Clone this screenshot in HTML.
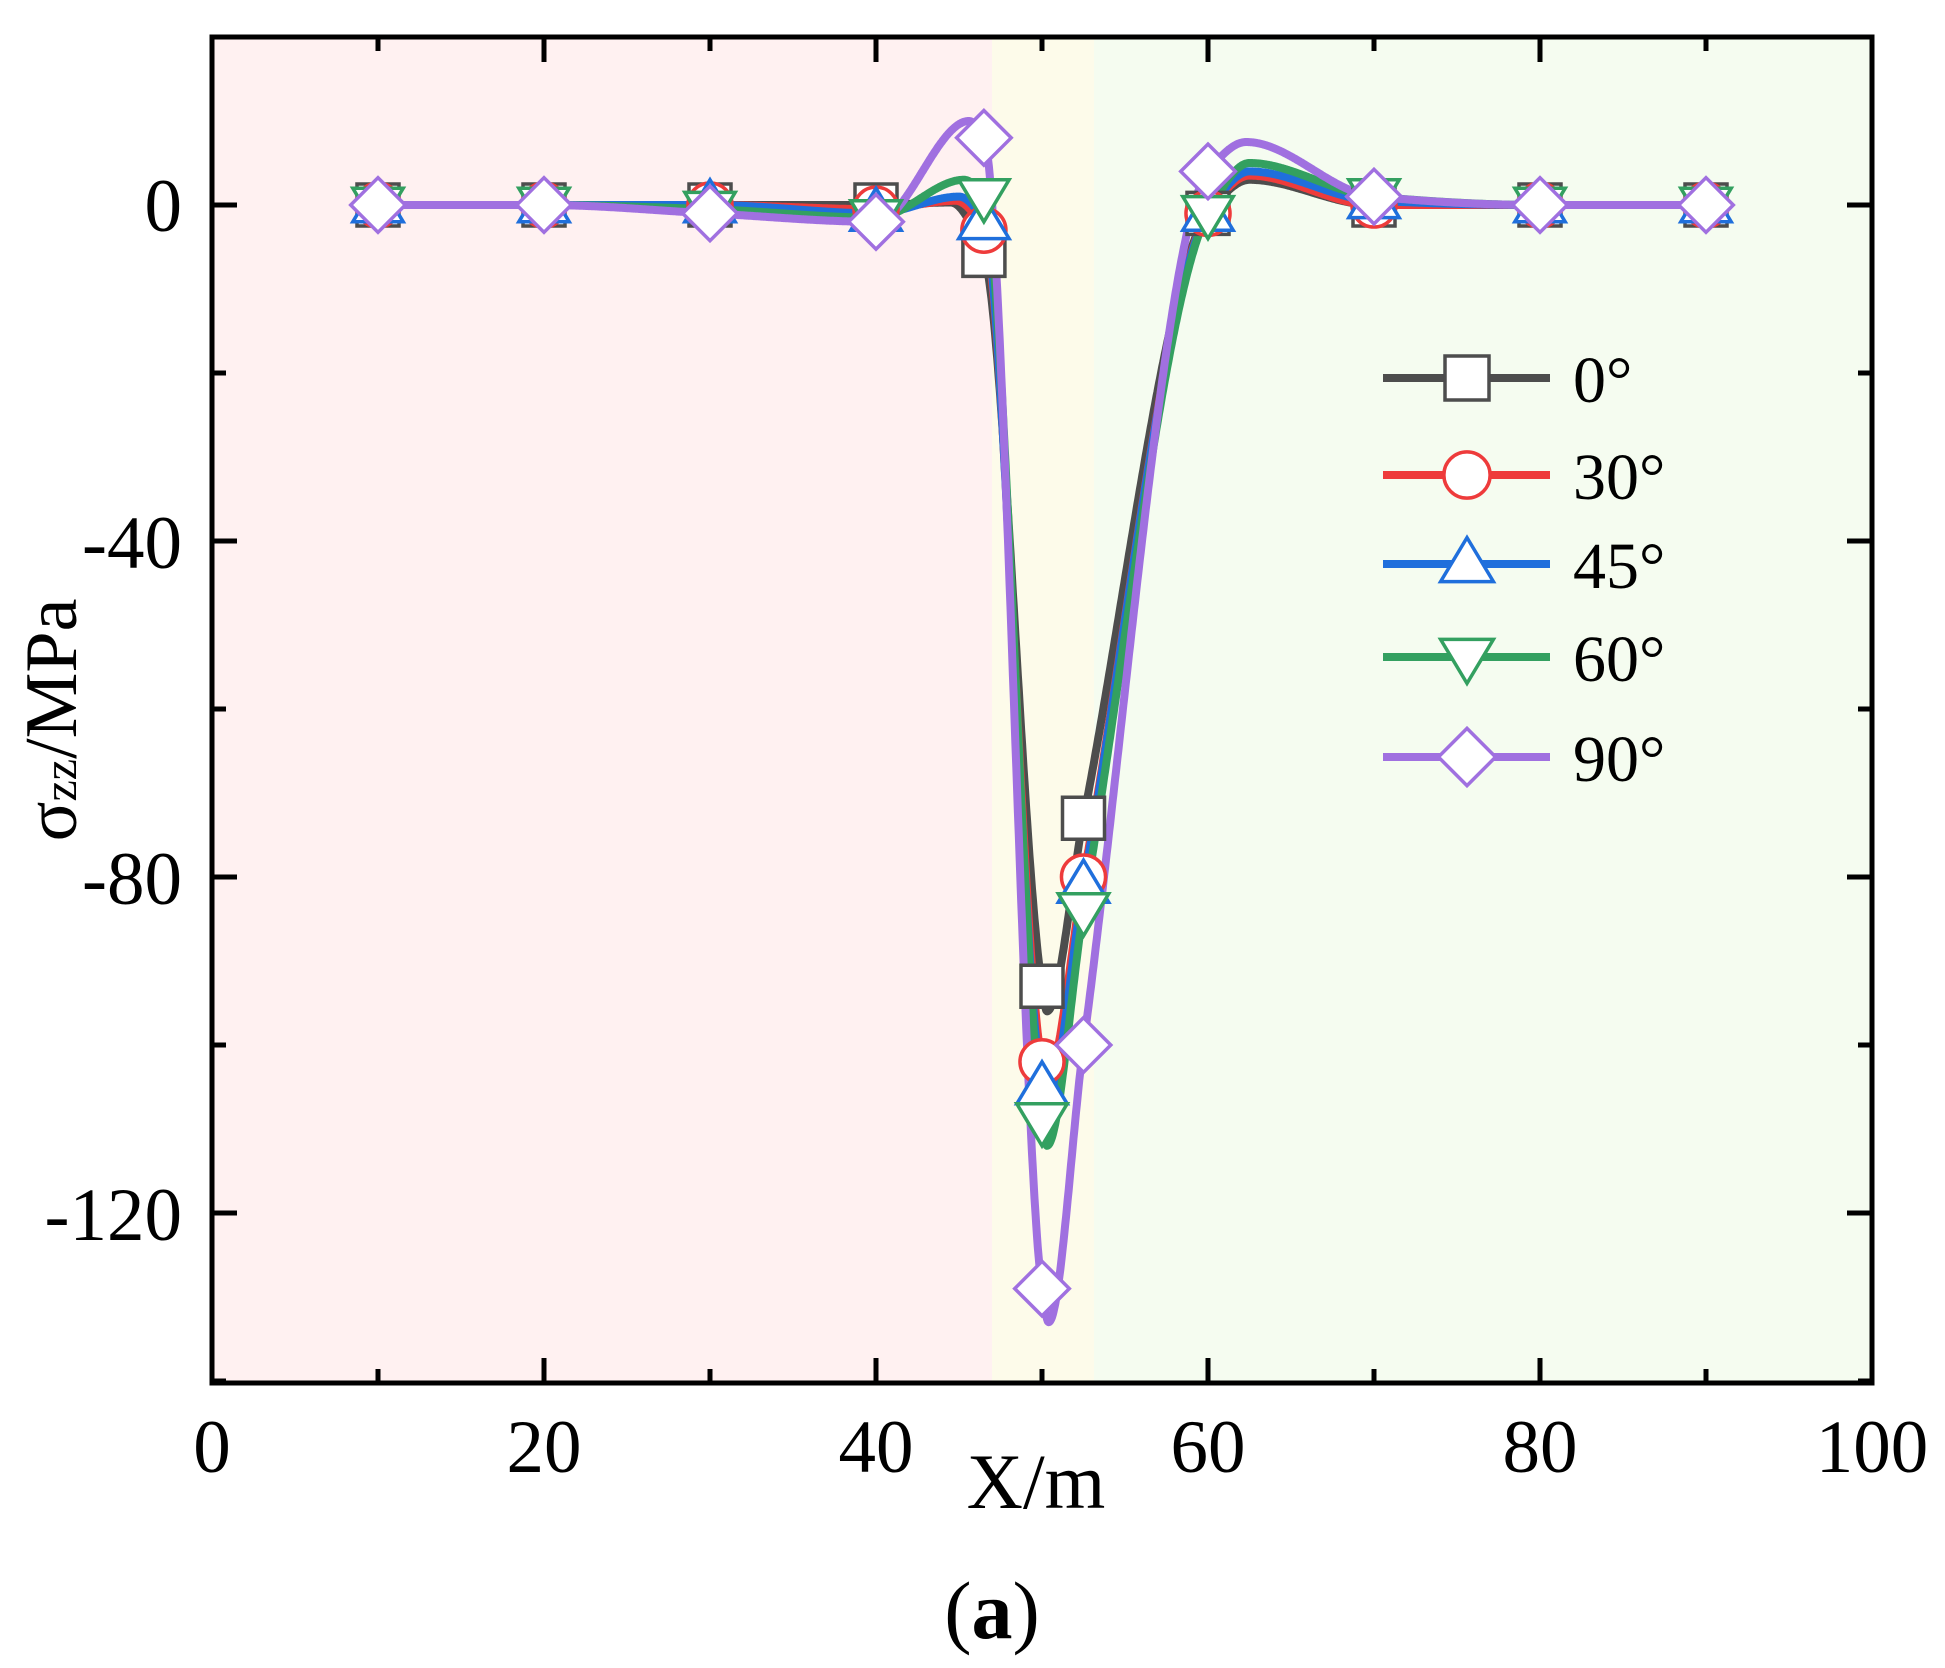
<!DOCTYPE html>
<html><head><meta charset="utf-8"><style>
html,body{margin:0;padding:0;background:#fff;}
svg{display:block;}
text{font-family:"Liberation Serif",serif;fill:#000;}
</style></head><body>
<svg id="s" width="1945" height="1668" viewBox="0 0 1945 1668" xmlns="http://www.w3.org/2000/svg">
<rect x="212" y="37" width="780" height="1346" fill="#fff1f1"/>
<rect x="992" y="37" width="102" height="1346" fill="#fdfbea"/>
<rect x="1094" y="37" width="778" height="1346" fill="#f5fcf0"/>
<g id="curves"></g>
<g id="marks"></g>
<rect x="212" y="37" width="1660" height="1346" fill="none" stroke="#000" stroke-width="5"/>
<g id="ticks" stroke="#000" stroke-width="5"></g>
<g font-size="75" text-anchor="middle">
<text x="212" y="1472">0</text><text x="544" y="1472">20</text><text x="876" y="1472">40</text>
<text x="1208" y="1472">60</text><text x="1540" y="1472">80</text><text x="1872" y="1472">100</text>
</g>
<g font-size="75" text-anchor="end">
<text x="182" y="231">0</text><text x="182" y="568">-40</text><text x="182" y="904">-80</text><text x="182" y="1240">-120</text>
</g>
<text x="1036" y="1508" font-size="78" text-anchor="middle">X/m</text>
<text transform="translate(76,720) rotate(-90)" font-size="74" text-anchor="middle">σ<tspan font-size="48">zz</tspan>/MPa</text>
<text x="992" y="1638" font-size="82" text-anchor="middle">(<tspan font-weight="bold">a</tspan>)</text>
<g id="legend"></g>
</svg>
<script>
var X=function(v){return 212+16.6*v;}, Y=function(v){return 205-8.4*v;};
var xs=[10,20,30,40,46.5,50,52.5,60,70,80,90];
var S=[
 {c:"#4d4d4d",m:"sq",y:[0,0,0,0,-6,-93,-73,-1,0,0,0],ex:[[44.5,0.3],[50.3,-96],[62.5,3]]},
 {c:"#ee3b3b",m:"ci",y:[0,0,0,-0.5,-3,-102,-80,-1,0,0,0],ex:[[44.8,0.5],[50.3,-104],[62.5,3.5]]},
 {c:"#1f6fdc",m:"tu",y:[0,0,0,-1,-2,-105,-81,-1,0.5,0,0],ex:[[45,1],[50.3,-107],[62.5,4]]},
 {c:"#33a060",m:"td",y:[0,0,-0.5,-1.5,1,-109,-84,-1,1,0,0],ex:[[45.3,3],[50.3,-112],[62.5,5]]},
 {c:"#a070e0",m:"di",y:[0,0,-1,-2,8,-129,-100,4,1,0,0],ex:[[45.6,10],[50.4,-133],[62.3,7.5]]}
];
function mono(x,y){var n=x.length,d=[],m=[];
for(var i=0;i<n-1;i++)d[i]=(y[i+1]-y[i])/(x[i+1]-x[i]);
m[0]=d[0];m[n-1]=d[n-2];
for(i=1;i<n-1;i++){if(d[i-1]*d[i]<=0)m[i]=0;else{var w1=2*(x[i+1]-x[i])+(x[i]-x[i-1]),w2=(x[i+1]-x[i])+2*(x[i]-x[i-1]);m[i]=(w1+w2)/(w1/d[i-1]+w2/d[i]);}}
return function(t){var k=0;while(k<n-2&&t>x[k+1])k++;var h=x[k+1]-x[k],s=(t-x[k])/h;
var h00=2*s*s*s-3*s*s+1,h10=s*s*s-2*s*s+s,h01=-2*s*s*s+3*s*s,h11=s*s*s-s*s;
return h00*y[k]+h10*h*m[k]+h01*y[k+1]+h11*h*m[k+1];};}
var ns="http://www.w3.org/2000/svg";
function el(t,at,p){var e=document.createElementNS(ns,t);for(var k in at)e.setAttribute(k,at[k]);p.appendChild(e);return e;}
function marker(m,cx,cy,col,p,r){r=r||21;var at={fill:"#fff",stroke:col,"stroke-width":3.5};
 if(m=="sq")at.points=[cx-r,cy-r,cx+r,cy-r,cx+r,cy+r,cx-r,cy+r].join(",");
 if(m=="tu")at.points=[cx,cy-r*1.2,cx+r*1.2,cy+r*0.8,cx-r*1.2,cy+r*0.8].join(",");
 if(m=="td")at.points=[cx,cy+r*1.2,cx+r*1.2,cy-r*0.8,cx-r*1.2,cy-r*0.8].join(",");
 if(m=="di")at.points=[cx,cy-r*1.3,cx+r*1.3,cy,cx,cy+r*1.3,cx-r*1.3,cy].join(",");
 if(m=="ci"){at.cx=cx;at.cy=cy;at.r=r*1.05;el("circle",at,p);return;}
 el("polygon",at,p);}
var cg=document.getElementById("curves"),mg=document.getElementById("marks");
S.forEach(function(s){var pts=xs.map(function(v,i){return [v,s.y[i]];}).concat(s.ex);
 pts.sort(function(a,b){return a[0]-b[0];});
 var f=mono(pts.map(function(p){return p[0];}),pts.map(function(p){return p[1];})),d="";
 for(var t=10;t<=90.001;t+=0.05){d+=(d?"L":"M")+X(t).toFixed(1)+","+Y(f(t)).toFixed(1);}
 el("path",{d:d,fill:"none",stroke:s.c,"stroke-width":8,"stroke-linejoin":"round"},cg);});
S.forEach(function(s){xs.forEach(function(v,i){marker(s.m,X(v),Y(s.y[i]),s.c,mg);});});
var tg=document.getElementById("ticks");
for(var v=0;v<=100;v+=10){var L=(v%20==0)?25:14;el("line",{x1:X(v),x2:X(v),y1:1383,y2:1383-L},tg);el("line",{x1:X(v),x2:X(v),y1:37,y2:37+L},tg);}
for(v=-140;v<=20;v+=20){var L2=(v%40==0)?25:14;el("line",{x1:212,x2:212+L2,y1:Y(v),y2:Y(v)},tg);el("line",{x1:1872,x2:1872-L2,y1:Y(v),y2:Y(v)},tg);}
var lg=document.getElementById("legend"),ly=[378,475,564,657,757],lab=["0°","30°","45°","60°","90°"];
S.forEach(function(s,i){el("line",{x1:1383,x2:1550,y1:ly[i],y2:ly[i],stroke:s.c,"stroke-width":8},lg);marker(s.m,1467,ly[i],s.c,lg,22);
 var t=el("text",{x:1573,y:ly[i]+24,"font-size":66},lg);t.textContent=lab[i];});
</script>
</body></html>
